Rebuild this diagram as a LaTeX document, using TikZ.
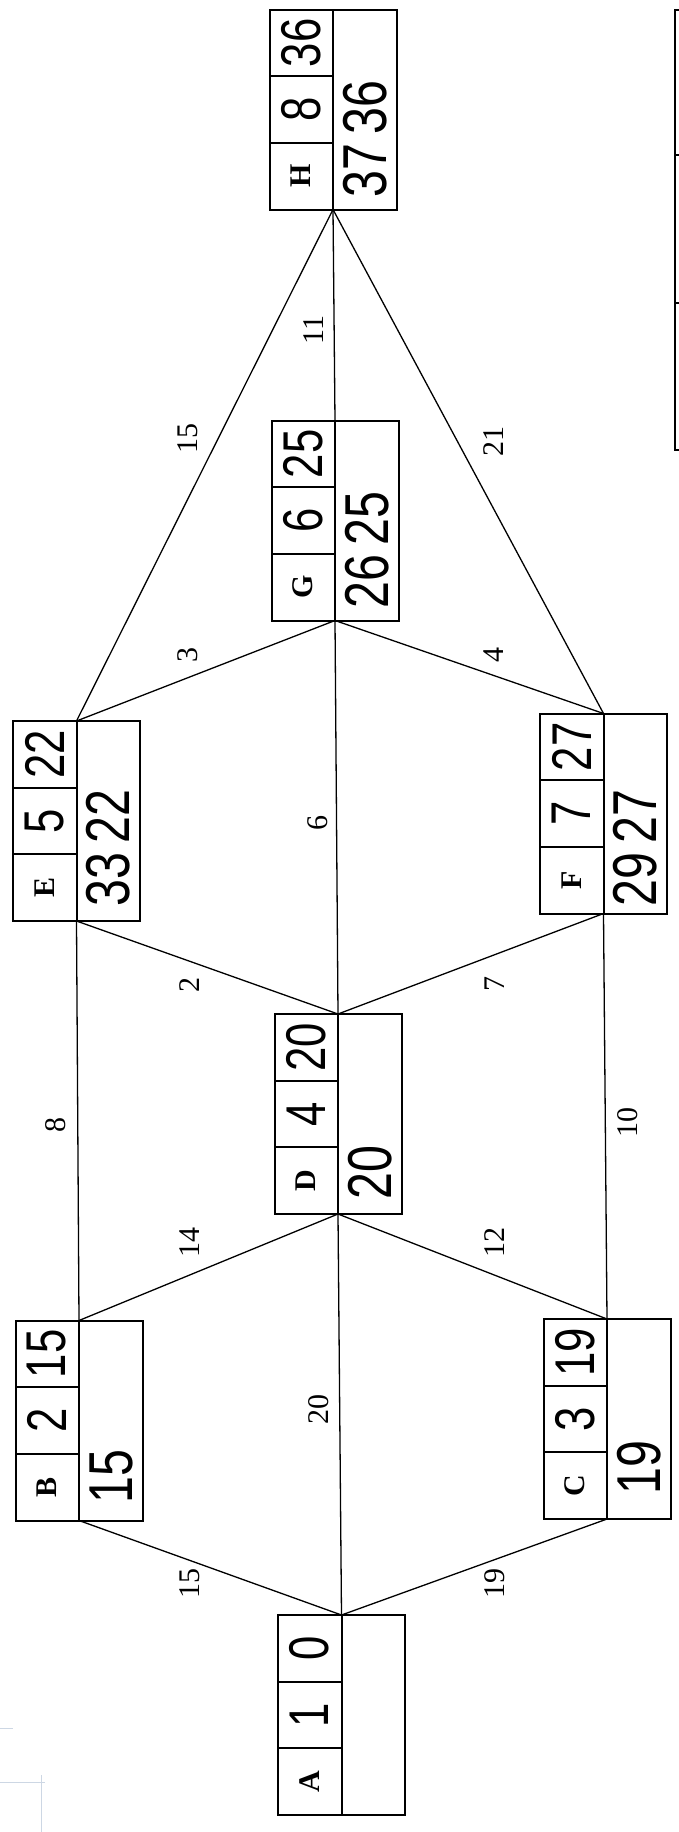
\documentclass[tikz,border=0pt]{standalone}
\usepackage{fontspec}
\setmainfont{Liberation Serif}
\newfontfamily\handfont{Liberation Sans}
\definecolor{faintblue}{RGB}{205,215,228}
\tikzset{
  taskbox/.style={draw, line width=2pt, minimum width=127pt, minimum height=200pt, inner sep=0pt, outer sep=0pt},
  cellline/.style={line width=2pt},
  edgeline/.style={line width=1.3pt},
  lbl/.style={rotate=90, font=\fontsize{30}{30}\selectfont, inner sep=0pt},
  letter/.style={rotate=90, font=\bfseries\fontsize{30}{30}\selectfont, inner sep=0pt},
  hw/.style={rotate=90, font=\handfont\fontsize{56}{56}\selectfont, inner sep=0pt},
  hwbig/.style={rotate=90, font=\handfont\fontsize{62}{62}\selectfont, inner sep=0pt, anchor=west},
  faint/.style={draw=faintblue, line width=1pt},
}
% #1 name, #2 x, #3 y, #4 letter, #5 duration, #6 top number, #7 lower text, #8 gap
\newcommand\mkbox[8]{%
  \node[taskbox] (#1) at (#2,#3) {};
  \draw[cellline] (#1.north) -- (#1.south);
  \draw[cellline] (#2-63.5,#3-33.3) -- (#2,#3-33.3);
  \draw[cellline] (#2-63.5,#3+33.3) -- (#2,#3+33.3);
  \node[hw] (#1t) at (#2-32,#3-66.7) {\scalebox{0.78}[1]{#6}};
  \node[hw] (#1d) at (#2-32,#3) {\scalebox{0.78}[1]{#5}};
  \node[letter] (#1l) at (#2-32,#3+66.7) {#4};
  \node[hwbig] (#1r) at (#2+32,#3+100-#8) {\scalebox{0.78}[1]{#7}};
}
\begin{document}
\begin{tikzpicture}[x=1pt,y=-1pt]
\fill[white] (0,0) rectangle (679,1832);
\useasboundingbox (0,0) rectangle (679,1832);

\mkbox{A}{341.5}{1715}{A}{1}{0}{}{0}
\mkbox{B}{79}{1420.5}{B}{2}{15}{15}{17}
\mkbox{C}{607}{1419}{C}{3}{19}{19}{24}
\mkbox{D}{338}{1114}{D}{4}{20}{20}{14}
\mkbox{E}{76.5}{821}{E}{5}{22}{33\hspace{12pt}22}{14}
\mkbox{F}{603.5}{813.5}{F}{7}{27}{29\hspace{12pt}27}{7}
\mkbox{G}{335}{520.5}{G}{6}{25}{26\hspace{12pt}25}{12}
\mkbox{H}{333}{109.5}{H}{8}{36}{37\hspace{12pt}36}{12}

\draw[edgeline] (A.north) -- (B.south);
\draw[edgeline] (A.north) -- (D.south);
\draw[edgeline] (A.north) -- (C.south);
\draw[edgeline] (B.north) -- (D.south);
\draw[edgeline] (B.north) -- (E.south);
\draw[edgeline] (C.north) -- (D.south);
\draw[edgeline] (C.north) -- (F.south);
\draw[edgeline] (D.north) -- (E.south);
\draw[edgeline] (D.north) -- (F.south);
\draw[edgeline] (D.north) -- (G.south);
\draw[edgeline] (E.north) -- (G.south);
\draw[edgeline] (F.north) -- (G.south);
\draw[edgeline] (E.north) -- (H.south);
\draw[edgeline] (G.north) -- (H.south);
\draw[edgeline] (F.north) -- (H.south);

\node[lbl] (lAB) at (190,1583) {15};
\node[lbl] (lAC) at (495,1583) {19};
\node[lbl] (lAD) at (319,1409) {20};
\node[lbl] (lBD) at (190,1242) {14};
\node[lbl] (lCD) at (495,1242) {12};
\node[lbl] (lBE) at (56,1125) {8};
\node[lbl] (lCF) at (628,1122) {10};
\node[lbl] (lDE) at (190,985) {2};
\node[lbl] (lDF) at (495,984) {7};
\node[lbl] (lDG) at (318,823) {6};
\node[lbl] (lEG) at (188,655) {3};
\node[lbl] (lFG) at (494,655) {4};
\node[lbl] (lEH) at (188,438) {15};
\node[lbl] (lFH) at (494,441) {21};
\node[lbl] (lGH) at (314,330) {11};

% partial table at right edge
\draw[cellline] (681,10) -- (674.5,10) -- (674.5,450) -- (681,450);
\draw[cellline] (674.5,155) -- (681,155);
\draw[cellline] (674.5,303) -- (681,303);

% faint marks at lower left
\draw[faint] (0,1728) -- (13,1728);
\draw[faint] (0,1782) -- (45,1782);
\draw[faint] (41,1775) -- (41,1832);
\end{tikzpicture}
\end{document}
